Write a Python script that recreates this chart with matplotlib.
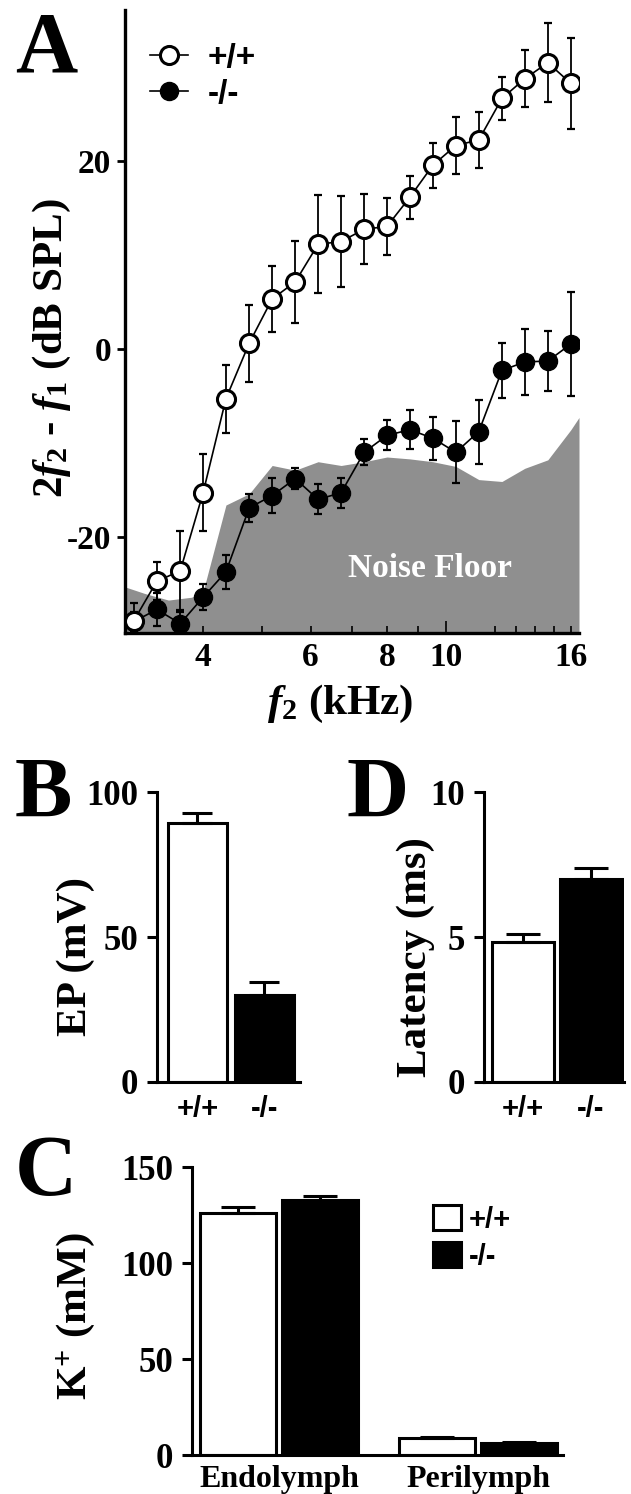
import matplotlib
matplotlib.use('Agg')
import matplotlib.pyplot as plt
from matplotlib.ticker import NullFormatter

plt.rcParams['font.family'] = 'Liberation Serif'
plt.rcParams['font.weight'] = 'bold'
plt.rcParams['axes.labelweight'] = 'bold'
plt.rcParams['axes.unicode_minus'] = False
plt.rcParams['mathtext.fontset'] = 'custom'
plt.rcParams['mathtext.rm'] = 'Liberation Serif:bold'
plt.rcParams['mathtext.it'] = 'Liberation Serif:italic:bold'
plt.rcParams['mathtext.bf'] = 'Liberation Serif:bold'

# panel A: DPOAE vs f2 (kHz)
freq = [3.08, 3.36, 3.67, 4.00, 4.36, 4.76, 5.19, 5.66, 6.17, 6.73,
        7.34, 8.00, 8.72, 9.51, 10.37, 11.31, 12.34, 13.45, 14.67, 16.00]
wt_db = [-28.9, -24.7, -23.6, -15.3, -5.3, 0.6, 5.3, 7.1, 11.1, 11.4,
         12.7, 13.0, 16.1, 19.5, 21.6, 22.2, 26.6, 28.7, 30.4, 28.2]
wt_err = [1.9, 2.0, 4.2, 4.1, 3.6, 4.1, 3.5, 4.4, 5.2, 4.8,
          3.7, 3.0, 2.3, 2.4, 3.0, 3.0, 2.3, 3.0, 4.2, 4.8]
ko_db = [-29.0, -27.7, -29.2, -26.4, -23.7, -16.9, -15.6, -13.8, -16.0, -15.3,
         -11.0, -9.2, -8.6, -9.5, -11.0, -8.8, -2.3, -1.4, -1.3, 0.5]
ko_err = [1.0, 1.8, 1.2, 1.4, 1.8, 1.5, 1.9, 1.1, 1.6, 1.6,
          1.4, 1.6, 2.1, 2.3, 3.3, 3.4, 2.9, 3.5, 3.2, 5.5]
noise_freq = [2.98, 3.21, 3.51, 3.83, 4.00, 4.36, 4.76, 5.19, 5.66, 6.17, 6.73,
              7.34, 8.00, 8.72, 9.51, 10.37, 11.31, 12.34, 13.45, 14.67, 16.00, 16.50]
noise_db = [-25.3, -26.0, -26.7, -26.4, -25.8, -16.6, -15.4, -12.4, -12.9, -12.0, -12.4,
            -12.0, -11.5, -11.7, -12.0, -12.5, -13.9, -14.1, -12.7, -11.8, -8.6, -7.3]
x_major = [4, 6, 8, 10, 16]
x_minor = [5, 7, 9, 12, 13, 14, 15]

# panel B: EP
genotypes = ['+/+', '-/-']
ep_vals = [89.3, 30.0]
ep_err = [3.4, 4.6]

# panel D: latency
lat_vals = [4.84, 6.99]
lat_err = [0.27, 0.38]

# panel C: K+
fluids = ['Endolymph', 'Perilymph']
k_wt = [126.3, 8.7]
k_wt_err = [2.8, 0.8]
k_ko = [133.0, 6.4]
k_ko_err = [2.2, 0.5]

W, H = 631, 1494
fig = plt.figure(figsize=(W / 100, H / 100), dpi=100)


def axes_px(left, top, right, bottom):
    return fig.add_axes([left / W, 1 - bottom / H, (right - left) / W, (bottom - top) / H])


def style_axes(ax, lw=2.2):
    for s in ['top', 'right']:
        ax.spines[s].set_visible(False)
    for s in ['left', 'bottom']:
        ax.spines[s].set_linewidth(lw)


sans = {'family': 'Liberation Sans', 'weight': 'bold'}

# ---- A ----
ax = axes_px(125, 10, 579, 633)
ax.fill_between(noise_freq, noise_db, -40, color='#8f8f8f', lw=0, zorder=0)
ax.text(9.4, -23.3, 'Noise Floor', color='white', fontsize=24, ha='center', va='center', zorder=1)
ax.errorbar(freq, ko_db, yerr=ko_err, fmt='none', ecolor='black', elinewidth=1.3,
            capsize=3, capthick=1.6, zorder=2)
ko_line, = ax.plot(freq, ko_db, '-o', color='black', lw=1.2, ms=13,
                   mfc='black', mec='black', zorder=3)
ax.errorbar(freq, wt_db, yerr=wt_err, fmt='none', ecolor='black', elinewidth=1.3,
            capsize=3, capthick=1.6, zorder=4)
wt_line, = ax.plot(freq, wt_db, '-o', color='black', lw=1.2, ms=13,
                   mfc='white', mec='black', mew=2.2, zorder=5)
ax.set_xscale('log')
ax.set_xlim(2.98, 16.5)
ax.set_ylim(-30.2, 36)
ax.set_xticks(x_major, labels=[str(v) for v in x_major])
ax.set_xticks(x_minor, minor=True)
ax.xaxis.set_minor_formatter(NullFormatter())
ax.set_yticks([-20, 0, 20])
style_axes(ax, 2.4)
ax.tick_params(axis='x', which='both', direction='in', length=5, width=1.2, pad=6.5, labelsize=24)
ax.tick_params(axis='y', direction='out', length=6, width=2, pad=4, labelsize=24)
ax.xaxis.get_major_ticks()[3].tick1line.set_markersize(9)
ax.set_ylabel(r'2$f_2$ - $f_1$ (dB SPL)', fontsize=31)
ax.yaxis.set_label_coords(-0.1145, 0.457)
ax.set_xlabel(r'$f_2$ (kHz)', fontsize=31)
ax.xaxis.set_label_coords(0.474, -0.080)
ax.legend([wt_line, ko_line], genotypes, loc='upper left', bbox_to_anchor=(0.055, 0.947),
          frameon=False, borderpad=0, borderaxespad=0, handlelength=1.15,
          handletextpad=0.58, labelspacing=0.15, numpoints=1,
          prop={**sans, 'size': 24})

# ---- B ----
axB = axes_px(157, 792.3, 300, 1081.7)
axB.bar([0, 1], ep_vals, width=0.88, color=['white', 'black'], edgecolor='black', linewidth=2.2)
axB.errorbar([0, 1], ep_vals, yerr=[[0, 0], ep_err], fmt='none', ecolor='black',
             elinewidth=2.2, capsize=11, capthick=2.2)
axB.set_xlim(-0.604, 1.53)
axB.set_ylim(0, 100)
axB.set_yticks([0, 50, 100])
axB.set_xticks([0, 1], labels=genotypes, fontfamily='Liberation Sans', fontsize=21)
style_axes(axB)
axB.tick_params(axis='x', length=0, pad=9.4)
axB.tick_params(axis='y', length=7, width=2.2, pad=6.5, labelsize=25)
axB.set_ylabel('EP (mV)', fontsize=31)
axB.yaxis.set_label_coords(-0.434, 0.431)

# ---- D ----
axD = axes_px(484, 792.3, 624, 1081.7)
axD.bar([0, 1], lat_vals, width=0.91, color=['white', 'black'], edgecolor='black', linewidth=2.2)
axD.errorbar([0, 1], lat_vals, yerr=[[0, 0], lat_err], fmt='none', ecolor='black',
             elinewidth=2.2, capsize=12, capthick=2.2)
axD.set_xlim(-0.574, 1.485)
axD.set_ylim(0, 10)
axD.set_yticks([0, 5, 10])
axD.set_xticks([0, 1], labels=genotypes, fontfamily='Liberation Sans', fontsize=21)
style_axes(axD)
axD.tick_params(axis='x', length=0, pad=9.4)
axD.tick_params(axis='y', length=7, width=2.2, pad=6.5, labelsize=25)
axD.set_ylabel('Latency (ms)', fontsize=31)
axD.yaxis.set_label_coords(-0.35, 0.431)

# ---- C ----
axC = axes_px(192, 1167.3, 563, 1455)
off = 0.207
bw = 0.38
xs = [0, 1]
axC.bar([x - off for x in xs], k_wt, width=bw, color='white', edgecolor='black',
        linewidth=2.2, label=genotypes[0])
axC.bar([x + off for x in xs], k_ko, width=bw, color='black', edgecolor='black',
        linewidth=2.2, label=genotypes[1])
axC.errorbar([x - off for x in xs], k_wt, yerr=[[0, 0], k_wt_err], fmt='none',
             ecolor='black', elinewidth=2.2, capsize=12, capthick=2.2)
axC.errorbar([x + off for x in xs], k_ko, yerr=[[0, 0], k_ko_err], fmt='none',
             ecolor='black', elinewidth=2.2, capsize=12, capthick=2.2)
axC.set_xlim(-0.437, 1.427)
axC.set_ylim(0, 150)
axC.set_yticks([0, 50, 100, 150])
axC.set_xticks(xs, labels=fluids, fontsize=23)
style_axes(axC)
axC.tick_params(axis='x', length=0, pad=7)
axC.tick_params(axis='y', length=7, width=2.2, pad=6.5, labelsize=25)
axC.set_ylabel(r'$\mathrm{K}^{+}$ (mM)', fontsize=31)
axC.yaxis.set_label_coords(-0.256, 0.483)
axC.legend(loc='upper left', bbox_to_anchor=(0.650, 0.869), frameon=False,
           borderpad=0, borderaxespad=0, handlelength=0.95, handleheight=0.95,
           handletextpad=0.28, labelspacing=0.3, prop={**sans, 'size': 21})

# panel letters
for letter, x, y in [('A', 15, 71), ('B', 15, 817), ('D', 346, 817), ('C', 15, 1195)]:
    fig.text(x / W, 1 - y / H, letter, fontsize=62, fontweight='bold', ha='left', va='baseline')

fig.savefig('out.png', dpi=100)
